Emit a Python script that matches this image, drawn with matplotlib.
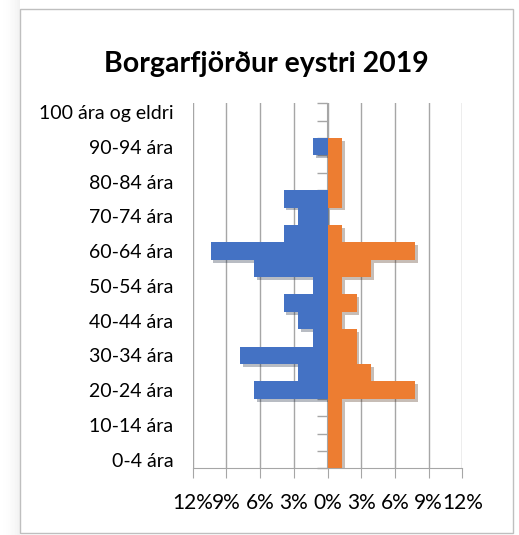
import matplotlib
matplotlib.use("Agg")
import matplotlib.pyplot as plt
import matplotlib.patheffects as pe
from matplotlib.patches import Rectangle
import numpy as np

plt.rcParams['font.family'] = ['Lato', 'DejaVu Sans']

ages = ['0-4 ára', '5-9 ára', '10-14 ára', '15-19 ára', '20-24 ára', '25-29 ára',
        '30-34 ára', '35-39 ára', '40-44 ára', '45-49 ára', '50-54 ára', '55-59 ára',
        '60-64 ára', '65-69 ára', '70-74 ára', '75-79 ára', '80-84 ára', '85-89 ára',
        '90-94 ára', '95-99 ára', '100 ára og eldri']
# percent of total population
karlar = [0, 0, 0, 0, 6.5, 2.6, 7.8, 1.3, 2.6, 3.9, 1.3, 6.5,
          10.4, 3.9, 2.6, 3.9, 0, 0, 1.3, 0, 0]
konur = [1.3, 1.3, 1.3, 1.3, 7.8, 3.9, 2.6, 2.6, 1.3, 2.6, 1.3, 3.9,
         7.8, 1.3, 0, 1.3, 1.3, 1.3, 1.3, 0, 0]
xticks = [-12, -9, -6, -3, 0, 3, 6, 9, 12]

fig = plt.figure(figsize=(5.19, 5.35), dpi=100)

# faint shadow strip at the left edge
bg = fig.add_axes([0, 0, 20/519, 1])
bg.imshow(np.linspace(0, 1, 50)[None, :] ** 2, aspect='auto', cmap='Greys',
          vmin=0, vmax=9, extent=[0, 1, 0, 1])
bg.axis('off')

fig.patches.append(Rectangle((20/519, 2/535), 493/519, 524/535, transform=fig.transFigure,
                             fill=False, edgecolor='#bfbfbf', lw=1))
ax = fig.add_axes([192.7/519, 1 - 468.3/535, (462.3 - 192.7)/519, (468.3 - 103.3)/535])

y = np.arange(len(ages))
men = -np.array(karlar)
# shadows first, under every bar
shadow = [pe.SimplePatchShadow(offset=(2, -2), alpha=0.3)]
ax.barh(y, men, height=1.0, color='#4472C4', path_effects=shadow, zorder=2)
ax.barh(y, konur, height=1.0, color='#ED7D31', path_effects=shadow, zorder=2)
ax.barh(y, men, height=1.0, color='#4472C4', zorder=3)
ax.barh(y, konur, height=1.0, color='#ED7D31', zorder=3)

ax.set_xlim(-12, 12)
ax.set_ylim(-0.5, len(ages) - 0.5)
ax.set_xticks(xticks)
ax.set_xticklabels(['%d%%' % abs(v) for v in xticks], fontsize=15)
ax.grid(axis='x', color='#a6a6a6', lw=1, zorder=0)
ax.set_axisbelow(True)

ax.set_yticks(y[::2])
ax.set_yticklabels(ages[::2], fontsize=14)
ax.tick_params(axis='y', length=0, pad=14)
ax.tick_params(axis='x', length=7, color='#a6a6a6', pad=11)
for s in ['top', 'right', 'left']:
    ax.spines[s].set_visible(False)
ax.spines['bottom'].set_color('#a6a6a6')

mid = ax.secondary_yaxis(0.5)
mid.set_alignment('left')
mid.set_yticks(np.arange(-0.5, len(ages), 1))
mid.set_yticklabels([])
mid.tick_params(length=7, color='#a6a6a6', width=1)
mid.spines['left'].set_color('#a6a6a6')
mid.set_zorder(1)

fig.text(266/519, 1 - 72/535, 'Borgarfjörður eystri 2019', ha='center', va='baseline',
         fontsize=20.5, fontweight='bold')

fig.savefig('out.png', dpi=100)
